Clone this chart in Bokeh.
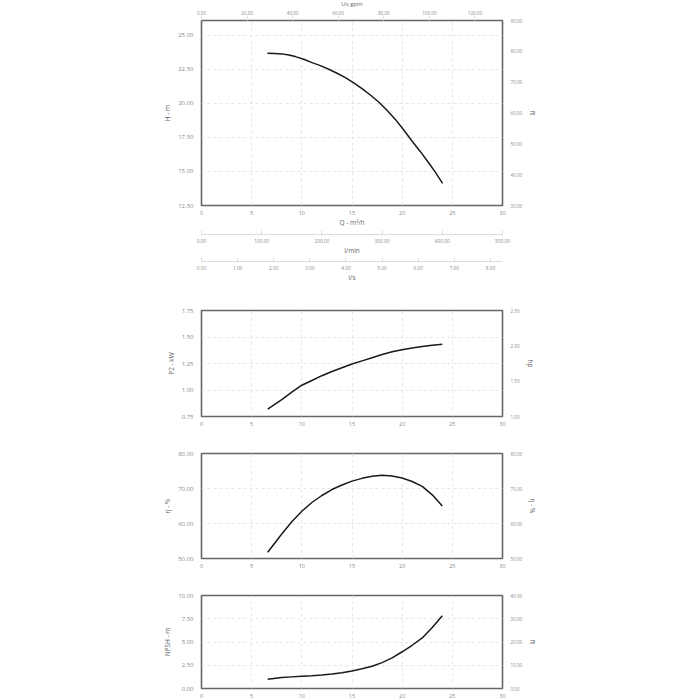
from bokeh.plotting import figure
from bokeh.models import LinearAxis, Range1d, FixedTicker, PrintfTickFormatter
from bokeh.layouts import column
from bokeh.embed import file_html
from bokeh.resources import INLINE

# ---------------- data ----------------
q_head = [6.57, 7.30, 8.03, 8.70, 9.36, 10.19, 11.02, 11.85, 12.68, 13.51, 14.34, 15.17,
          16.0, 16.83, 17.66, 18.49, 19.32, 20.14, 20.98, 21.80, 22.64, 23.30, 24.03]
head_m = [23.68, 23.66, 23.63, 23.55, 23.43, 23.24, 22.99, 22.77, 22.50, 22.21, 21.89, 21.50,
          21.08, 20.61, 20.10, 19.49, 18.82, 18.06, 17.23, 16.47, 15.64, 14.95, 14.12]

q_pow = [6.6, 7, 8, 9, 10, 11, 12, 13, 14, 15, 16, 17, 18, 19, 20, 21, 22, 23, 24]
p2_kw = [0.82, 0.845, 0.91, 0.98, 1.045, 1.09, 1.135, 1.175, 1.21, 1.245, 1.275, 1.305,
         1.335, 1.36, 1.38, 1.397, 1.41, 1.422, 1.432]

q_eff = [6.6, 7, 8, 9, 10, 11, 12, 13, 14, 15, 16, 17, 18, 19, 20, 21, 22, 23, 24]
eff_pct = [51.8, 53.3, 57.0, 60.5, 63.5, 66.0, 68.0, 69.7, 71.0, 72.1, 72.9, 73.5, 73.8,
           73.6, 73.0, 72.0, 70.6, 68.2, 65.0]

q_npsh = [6.6, 8, 9, 10, 11, 12, 13, 14, 15, 16, 17, 18, 19, 20, 21, 22, 23, 24]
npsh_m = [1.00, 1.17, 1.25, 1.32, 1.38, 1.46, 1.56, 1.70, 1.89, 2.12, 2.40, 2.78, 3.30,
          3.95, 4.65, 5.44, 6.55, 7.83]

x_ticks = [0, 5, 10, 15, 20, 25, 30]
gpm_ticks = [0, 20, 40, 60, 80, 100, 120]
lmin_ticks = [0, 100, 200, 300, 400, 500]
ls_ticks = [0, 1, 2, 3, 4, 5, 6, 7, 8]

FONT = "Open Sans"
W = 700
LEFT = 201
FRAME_W = 301
RIGHT = W - LEFT - FRAME_W


def base_fig(height, top, frame_h, ylo, yhi, rlo, rhi):
    p = figure(width=W, height=height, output_backend="svg", toolbar_location=None,
               tools="", x_range=Range1d(0, 30), y_range=Range1d(ylo, yhi),
               min_border_left=LEFT, min_border_right=RIGHT, min_border_top=top,
               min_border_bottom=height - top - frame_h)
    p.outline_line_color = "#666666"
    p.outline_line_width = 1.6
    p.background_fill_color = "white"
    p.border_fill_color = "white"
    p.extra_y_ranges = {"r": Range1d(rlo, rhi)}
    for g in (p.xgrid[0], p.ygrid[0]):
        g.grid_line_color = "#e6e6e6"
        g.grid_line_dash = "3 3"
        g.grid_line_width = 1
    return p


def style(ax, size, label_size="6.5px"):
    ax.major_label_text_font = FONT
    ax.major_label_text_font_size = size
    ax.major_label_text_color = "#8a8a8a"
    ax.axis_label_text_font = FONT
    ax.axis_label_text_font_size = label_size
    ax.axis_label_text_color = "#666666"
    ax.axis_label_text_font_style = "normal"
    ax.axis_line_color = None
    ax.major_tick_line_color = None
    ax.minor_tick_line_color = None
    ax.major_tick_out = 0
    ax.major_tick_in = 0
    ax.minor_tick_out = 0
    ax.minor_tick_in = 0


def setup_axes(p, lticks, llabel, rticks, rlabel, xlabel=None):
    xa = p.xaxis[0]
    xa.ticker = FixedTicker(ticks=x_ticks)
    style(xa, "5.5px")
    xa.major_label_standoff = 5
    if xlabel:
        xa.axis_label = xlabel
        xa.axis_label_standoff = 0
    ya = p.yaxis[0]
    ya.ticker = FixedTicker(ticks=lticks)
    ya.formatter = PrintfTickFormatter(format="%.2f")
    style(ya, "6px")
    ya.major_label_standoff = 8
    ya.axis_label = llabel
    ya.axis_label_standoff = 3
    ra = LinearAxis(y_range_name="r", ticker=FixedTicker(ticks=rticks),
                    formatter=PrintfTickFormatter(format="%.2f"), axis_label=rlabel)
    style(ra, "4.6px")
    ra.major_label_standoff = 8
    ra.axis_label_standoff = 3
    p.add_layout(ra, "right")


def curve(p, x, y):
    p.line(x, y, line_color="#1a1a1a", line_width=1.5)


def spacer(p, font_px):
    # an axis whose single blank tick label only reserves vertical space
    sp = LinearAxis(ticker=FixedTicker(ticks=[15]), major_label_overrides={15: " "})
    style(sp, f"{font_px}px")
    sp.major_label_standoff = 0
    p.add_layout(sp, "below")


# ---------- chart 1: head ----------
TOP1 = 24
p1 = base_fig(292 + TOP1 - 20, TOP1, 185, 12.5, 26.08, 30, 90)
p1.styles = {"margin-top": f"-{TOP1 - 20}px"}
p1.extra_x_ranges = {"gpm": Range1d(0, 30 * 4.402868), "lmin": Range1d(0, 500),
                     "ls": Range1d(0, 30 / 3.6)}
setup_axes(p1, [12.5, 15, 17.5, 20, 22.5, 25], "H - m", [30, 40, 50, 60, 70, 80, 90], "ft",
           xlabel="Q - m³/h")
ta = LinearAxis(x_range_name="gpm", ticker=FixedTicker(ticks=gpm_ticks),
                formatter=PrintfTickFormatter(format="%.2f"), axis_label="Us gpm")
style(ta, "4.6px", "6px")
ta.major_tick_line_color = "#e0e0e0"
ta.major_tick_out = 5
ta.major_label_standoff = 1
ta.axis_label_standoff = 0
p1.add_layout(ta, "above")

spacer(p1, 1.5)
for i, (name, ticks, lab) in enumerate((("lmin", lmin_ticks, "l/min"), ("ls", ls_ticks, "l/s"))):
    if i == 1:
        spacer(p1, 1)
    ax = LinearAxis(x_range_name=name, ticker=FixedTicker(ticks=ticks),
                    formatter=PrintfTickFormatter(format="%.2f"), axis_label=lab)
    style(ax, "4.8px", "6.5px")
    ax.axis_line_color = "#dddddd"
    ax.major_tick_line_color = "#dddddd"
    ax.major_tick_in = 4
    ax.major_label_standoff = 4
    ax.axis_label_standoff = 0
    p1.add_layout(ax, "below")
curve(p1, q_head, head_m)

# ---------- chart 2: power ----------
p2 = base_fig(145, 18, 106, 0.75, 1.75, 1.0, 2.5)
setup_axes(p2, [0.75, 1.0, 1.25, 1.5, 1.75], "P2 - kW", [1.0, 1.5, 2.0, 2.5], "hp")
curve(p2, q_pow, p2_kw)

# ---------- chart 3: efficiency ----------
p3 = base_fig(143, 16, 105, 50, 80, 50, 80)
setup_axes(p3, [50, 60, 70, 80], "η - %", [50, 60, 70, 80], "η - %")
curve(p3, q_eff, eff_pct)

# ---------- chart 4: NPSH ----------
p4 = base_fig(120, 15, 93, 0, 10, 0, 40)
setup_axes(p4, [0, 2.5, 5, 7.5, 10], "NPSH - m", [0, 10, 20, 30, 40], "ft")
curve(p4, q_npsh, npsh_m)

layout = column(p1, p2, p3, p4)
open("out.html", "w").write(file_html(layout, INLINE))
